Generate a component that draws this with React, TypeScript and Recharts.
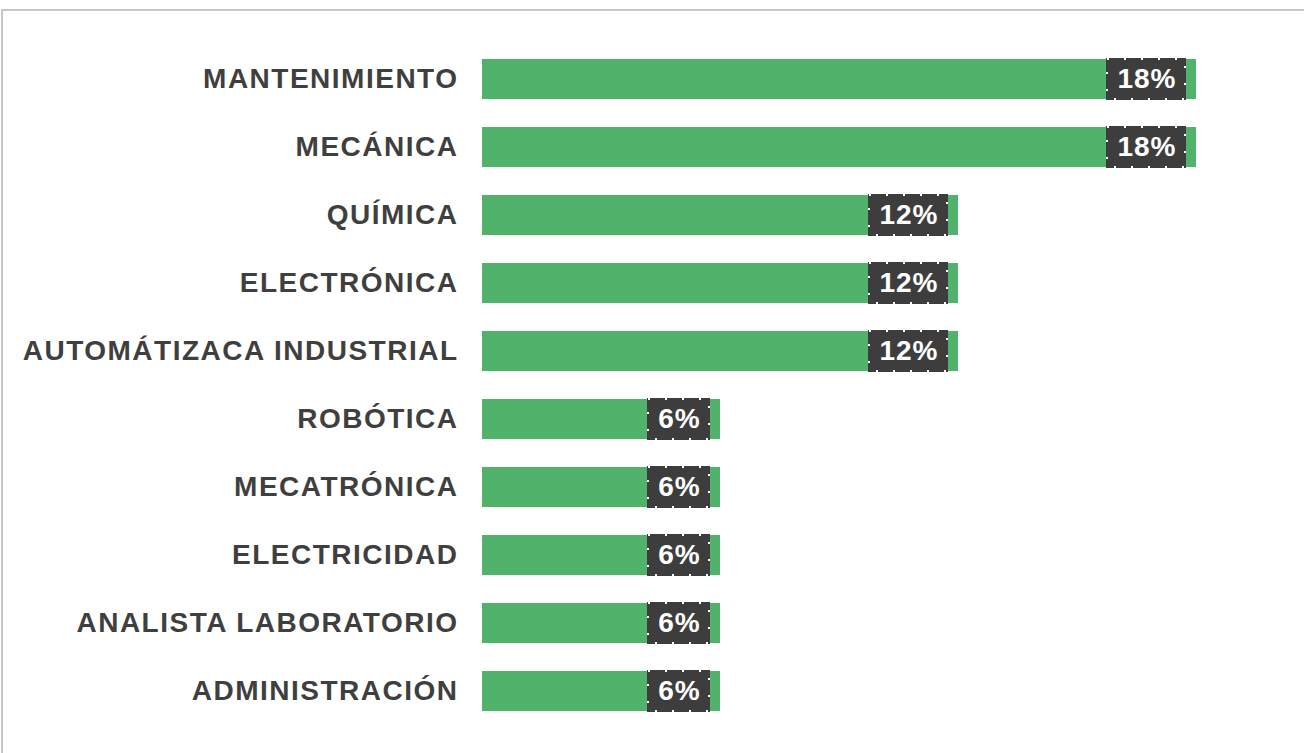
import React from "react";
import { BarChart, Bar, XAxis, YAxis, LabelList } from "recharts";

const categories = [
  "MANTENIMIENTO",
  "MECÁNICA",
  "QUÍMICA",
  "ELECTRÓNICA",
  "AUTOMÁTIZACA INDUSTRIAL",
  "ROBÓTICA",
  "MECATRÓNICA",
  "ELECTRICIDAD",
  "ANALISTA LABORATORIO",
  "ADMINISTRACIÓN",
];
const values = [18, 18, 12, 12, 12, 6, 6, 6, 6, 6];
const valueLabels = ["18%", "18%", "12%", "12%", "12%", "6%", "6%", "6%", "6%", "6%"];

const data = categories.map((name, i) => ({ name, value: values[i], label: valueLabels[i] }));

const renderLabel = (props: any) => {
  const { x, y, width, height, index } = props;
  const text = valueLabels[index];
  const boxW = text.length === 3 ? 80 : 63;
  const right = x + width - 10;
  const bx = right - boxW;
  const by = y - 1;
  const bh = height + 2;
  return (
    <g>
      <rect x={bx} y={by} width={boxW} height={bh} fill="#3d3d3d" />
      <rect
        x={bx + 1}
        y={by + 1}
        width={boxW - 2}
        height={bh - 2}
        fill="none"
        stroke="#ffffff"
        strokeWidth={2}
        strokeDasharray="2 15"
      />
      <text
        x={bx + boxW / 2 + 1}
        y={by + bh / 2 + 2}
        textAnchor="middle"
        dominantBaseline="middle"
        fill="#ffffff"
        fontSize={28}
        fontWeight="bold"
        letterSpacing={1}
        fontFamily="'Liberation Sans', Arial, sans-serif"
      >
        {text}
      </text>
    </g>
  );
};

const renderTick = (props: any) => {
  const { x, y, payload } = props;
  return (
    <text
      x={x + 1.5}
      y={y + 2}
      textAnchor="end"
      dominantBaseline="middle"
      fill="#3f3f3f"
      fontSize={28}
      fontWeight="bold"
      letterSpacing={1.5}
      fontFamily="'Liberation Sans', Arial, sans-serif"
    >
      {payload.value}
    </text>
  );
};

export default function App() {
  return (
    <div
      style={{
        position: "absolute",
        left: 0,
        top: 0,
        width: 1304,
        height: 753,
        background: "#ffffff",
        overflow: "hidden",
      }}
    >
      <div
        style={{
          position: "absolute",
          left: 1,
          top: 9,
          width: 1400,
          height: 800,
          borderLeft: "2px solid #c6c6c6",
          borderTop: "2px solid #c6c6c6",
        }}
      />
      <div style={{ position: "absolute", left: 0, top: 0 }}>
        <BarChart
          width={1304}
          height={753}
          data={data}
          layout="vertical"
          margin={{ top: 45, right: 108, bottom: 28, left: 0 }}
          barSize={40}
        >
          <XAxis type="number" domain={[0, 18]} hide />
          <YAxis
            type="category"
            dataKey="name"
            width={482}
            axisLine={false}
            tickLine={false}
            tick={renderTick}
            tickMargin={19}
            interval={0}
          />
          <Bar dataKey="value" fill="#50b26b" isAnimationActive={false}>
            <LabelList dataKey="value" content={renderLabel} />
          </Bar>
        </BarChart>
      </div>
    </div>
  );
}
